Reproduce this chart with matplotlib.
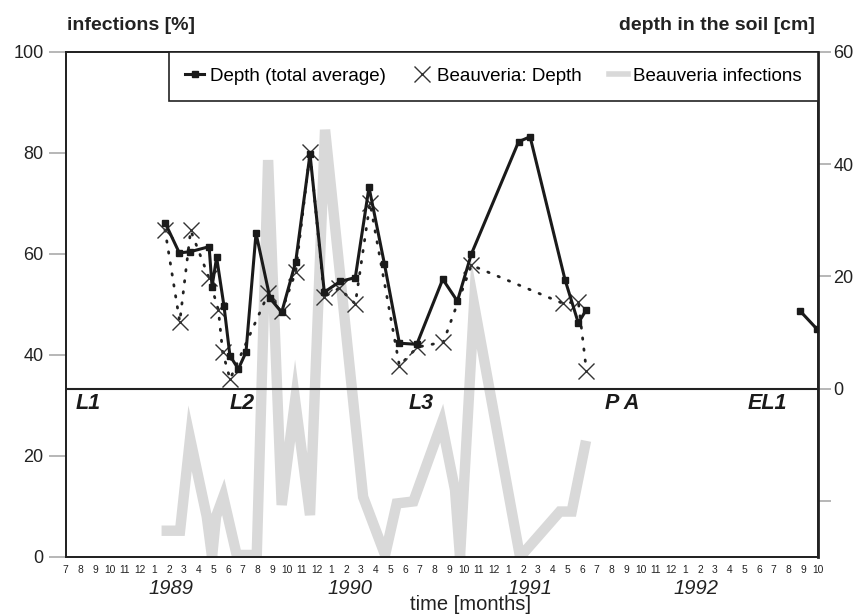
import numpy as np
import matplotlib
matplotlib.use("Agg")
import matplotlib.pyplot as plt
from matplotlib.lines import Line2D
from matplotlib.transforms import blended_transform_factory

plt.rcParams['font.family'] = ['Liberation Sans', 'DejaVu Sans']

# x positions are months counted from July 1988 (0 = Jul 1988)
avg_month = [6.73, 7.70, 8.43, 9.72, 9.92, 10.23, 10.73, 11.13, 11.70, 12.22,
             12.90, 13.85, 14.64, 15.59, 16.56, 17.53, 18.60, 19.63, 20.56, 21.60,
             22.62, 23.80, 25.56, 26.55, 27.50, 30.70, 31.48, 33.85, 34.75, 35.30,
             np.nan, 49.8, 50.9]
avg_depth = [29.6, 24.2, 24.4, 25.3, 18.2, 23.4, 14.7, 5.9, 3.5, 6.5,
             27.7, 16.1, 13.6, 22.6, 41.8, 17.2, 19.1, 19.8, 35.9, 22.3,
             8.1, 7.9, 19.5, 15.6, 24.0, 44.0, 44.9, 19.4, 11.7, 14.1,
             np.nan, 13.8, 10.7]

bv_month = [6.73, 7.73, 8.47, 9.72, 10.35, 10.64, 11.14, 13.74, 14.64, 15.59,
            16.56, 17.53, 18.55, 19.63, 20.63, 22.62, 23.84, 25.60, 27.50, 33.70,
            34.75, 35.30]
bv_depth = [28.3, 11.9, 28.2, 19.7, 14.0, 6.5, 1.7, 17.0, 13.8, 20.8,
            42.1, 16.4, 17.9, 15.1, 33.1, 4.1, 7.4, 8.3, 22.0, 15.2,
            15.5, 3.2]

inf_month = [6.85, 7.75, 8.43, 9.56, 9.92, 10.19, 10.68, 11.59, 12.95, 13.72,
             14.64, 15.55, 16.56, 17.58, 20.16, 21.65, 22.44, 23.57, 25.49, 26.39,
             26.73, 27.68, 30.80, 33.50, 34.30, 35.20]
inf_pct = [5.2, 5.2, 23.5, 8.0, 0.0, 8.0, 11.9, 0.4, 0.4, 78.6,
           10.3, 31.0, 8.3, 84.6, 11.9, 0.4, 10.6, 11.0, 26.5, 13.3,
           0.0, 50.0, 0.0, 9.0, 9.0, 22.0]

month_labels = ['7', '8', '9', '10', '11', '12'] + \
    [str(m) for m in range(1, 13)] * 3 + [str(m) for m in range(1, 11)]
years = ['1989', '1990', '1991', '1992']
year_pos = [7.14, 19.27, 31.47, 42.73]

stages = ['L1', 'L2', 'L3', 'P A', 'EL1']
stage_pos = [1.55, 11.95, 24.1, 37.7, 47.6]

fig = plt.figure(figsize=(8.66, 6.16), dpi=100)
ax = fig.add_axes([0.0759, 0.0958, 0.8687, 0.8198])
ax2 = ax.twinx()

n_months = len(month_labels)
ax.set_xlim(0, n_months - 1)
ax.set_ylim(0, 100)
ax2.set_ylim(-30, 60)

# infections (left axis), broad light grey line
ax.plot(inf_month, inf_pct, color='#d9d9d9', lw=7.5, solid_joinstyle='miter',
        zorder=1)

# depth series (right axis)
ax2.axhline(0, color='#222222', lw=1.5, zorder=2)
ax2.plot(bv_month, bv_depth, color='#222222', lw=2.0, ls=(0, (0.5, 3.5)),
         dash_capstyle='round', marker='x', ms=11, mew=1.0, mfc='none',
         mec='#333333', zorder=3)
ax2.plot(avg_month, avg_depth, color='#1a1a1a', lw=2.2, marker='s', ms=4.5,
         zorder=4)

# axes styling
for a in (ax, ax2):
    for s in a.spines.values():
        s.set_color('#222222')
        s.set_linewidth(1.3)
ax2.spines['right'].set_linewidth(2.0)

ax.set_yticks([0, 20, 40, 60, 80, 100])
ax.tick_params(axis='y', length=12, width=1.2, color='#aaaaaa', labelsize=13,
               pad=4, labelcolor='#222222')
ax2.set_yticks([-20, 0, 20, 40, 60])
ax2.set_yticklabels(['', '0', '20', '40', '60'])
ax2.tick_params(axis='y', length=9, width=1.2, color='#aaaaaa', labelsize=13,
                pad=2, labelcolor='#222222')

ax.set_xticks(range(n_months))
ax.set_xticklabels(month_labels, fontsize=7.4, color='#222222')
ax.tick_params(axis='x', length=0, pad=6)

tb = blended_transform_factory(ax.transData, fig.transFigure)
for y, p in zip(years, year_pos):
    fig.text(p, 1 - 588 / 616, y, transform=tb, fontsize=14.5, style='italic',
             ha='center', va='center', color='#222222')
fig.text(470 / 866, 1 - 604 / 616, 'time [months]', fontsize=14.5,
         ha='center', va='center', color='#222222')

for s, p in zip(stages, stage_pos):
    ax.text(p, 30.3, s, fontsize=15.5, fontweight='bold', style='italic',
            ha='center', va='center', color='#1a1a1a')

fig.text(67 / 866, 1 - 25 / 616, 'infections [%]', fontsize=14,
         fontweight='bold', ha='left', va='center', color='#222222')
fig.text(815 / 866, 1 - 25 / 616, 'depth in the soil [cm]', fontsize=14,
         fontweight='bold', ha='right', va='center', color='#222222')

handles = [
    Line2D([], [], color='#1a1a1a', lw=2.2, marker='s', ms=4.5),
    Line2D([], [], ls='none', marker='x', ms=11, mew=1.0, color='#333333'),
    Line2D([], [], color='#d9d9d9', lw=4),
]
labels = ['Depth (total average)', 'Beauveria: Depth', 'Beauveria infections']
leg = ax2.legend(handles, labels, loc='upper right', bbox_to_anchor=(1, 1),
                 borderaxespad=0, ncol=3, fontsize=13.5, frameon=True,
                 fancybox=False, edgecolor='#222222', framealpha=1,
                 handlelength=1.0, handletextpad=0.3, columnspacing=1.45,
                 borderpad=0.85)
leg.get_frame().set_linewidth(1.2)
leg.set_zorder(10)

fig.savefig('out.png', dpi=100)
